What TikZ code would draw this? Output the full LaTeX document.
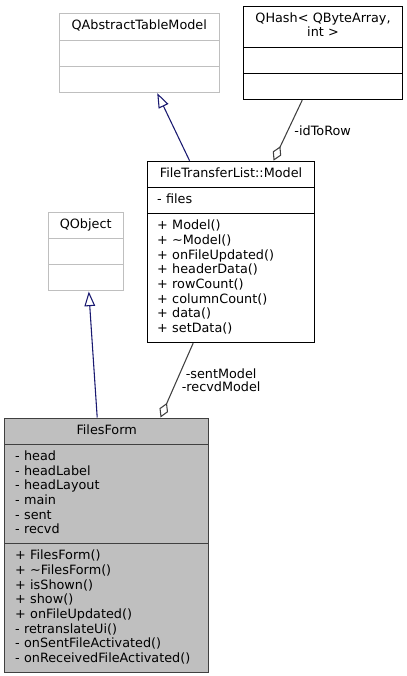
\documentclass[tikz,border=0pt]{standalone}
\usepackage{fontspec}
\setmainfont{DejaVu Sans}
\usepackage{tikz}
\usetikzlibrary{arrows.meta,shapes.multipart}

\definecolor{edgeblue}{HTML}{191970}
\definecolor{edgegray}{HTML}{404040}
\definecolor{boxgray}{HTML}{BFBFBF}

\begin{document}
\begin{tikzpicture}[
  x=0.75pt, y=-0.75pt,
  umlclass/.style={draw, rectangle split, rectangle split parts=3, anchor=north west,
                   align=left, inner xsep=3pt, inner ysep=3.94pt, line width=0.8pt,
                   font=\fontsize{9.6}{11}\selectfont},
  extclass/.style={umlclass, draw=boxgray},
  inherit/.style={-{Triangle[open, length=11pt, width=8pt]}, line width=0.8pt, edgeblue},
  aggr/.style={-{Diamond[open, length=12pt, width=7pt]}, line width=0.8pt, edgegray},
  lbl/.style={font=\fontsize{9.6}{10}\selectfont, text=black, align=center}
]
\useasboundingbox (0,0) rectangle (407,676);

% === Base classes ===
\node[extclass, text width=114pt] (qatm) at (58.7,13.3)
  {{\centering\strut QAbstractTableModel\par}\nodepart{second}\strut\nodepart{third}\strut};
\node[umlclass, text width=113.25pt] (qhash) at (243,5.7)
  {{\centering\strut QHash< QByteArray,\\ int >\strut\par}\nodepart{second}\strut\nodepart{third}\strut};
\node[extclass, text width=50.25pt] (qobject) at (47.7,211.7)
  {{\centering\strut QObject\par}\nodepart{second}\strut\nodepart{third}\strut};

% === Model ===
\node[umlclass, inner xsep=7.5pt, text width=110.7pt] (model) at (146.7,160.7)
  {{\centering\strut FileTransferList::Model\par}
   \nodepart{second}\strut- files
   \nodepart{third}\strut+ Model()\\
   + \textasciitilde Model()\\
   + onFileUpdated()\\
   + headerData()\\
   + rowCount()\\
   + columnCount()\\
   + data()\\
   + setData()\strut};

% === FilesForm ===
\node[umlclass, fill=boxgray, draw=edgegray, inner xsep=8pt, text width=137.2pt] (filesform) at (4,417.5)
  {{\centering\strut FilesForm\par}
   \nodepart{second}\strut- head\\
   - headLabel\\
   - headLayout\\
   - main\\
   - sent\\
   - recvd\strut
   \nodepart{third}\strut+ FilesForm()\\
   + \textasciitilde FilesForm()\\
   + isShown()\\
   + show()\\
   + onFileUpdated()\\
   - retranslateUi()\\
   - onSentFileActivated()\\
   - onReceivedFileActivated()\strut};

% Relations
\draw[inherit] ([xshift=-31.1pt]model.north) -- ([xshift=13.5pt]qatm.south);
\draw[aggr] ([xshift=-15.6pt]qhash.south) -- node[lbl, right=1.2pt] {-idToRow} ([xshift=31.9pt]model.north);
\draw[inherit] ([xshift=-7.1pt]filesform.north) -- ([xshift=2.3pt]qobject.south);
\draw[aggr] ([xshift=-28.4pt]model.south) -- node[lbl, right=0pt] {-sentModel\\-recvdModel} ([xshift=40.4pt]filesform.north);

\end{tikzpicture}
\end{document}
